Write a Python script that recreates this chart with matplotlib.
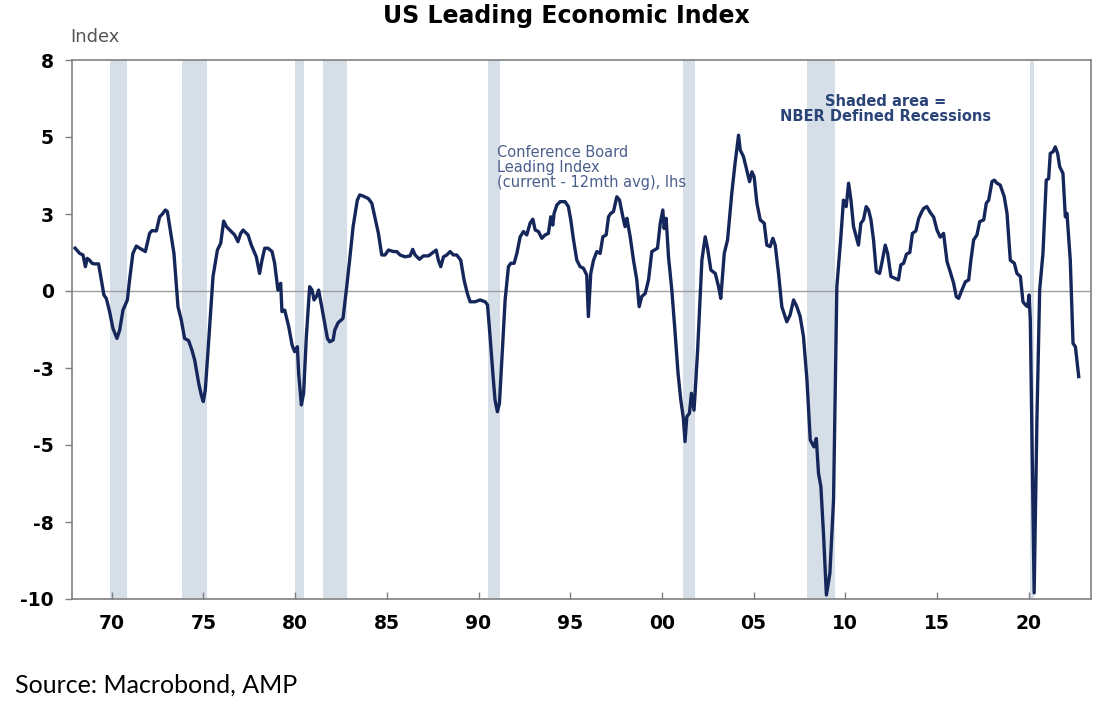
import matplotlib
matplotlib.use('Agg')
import matplotlib.pyplot as plt

# recession bands (NBER), decimal years
rec_start = [1969.92, 1973.83, 1980.0, 1981.5, 1990.5, 2001.17, 2007.92, 2020.1]
rec_end = [1970.83, 1975.17, 1980.5, 1982.83, 1991.17, 2001.83, 2009.42, 2020.3]

# Conference Board leading index, current - 12mth avg
years = [1968.00, 1968.25, 1968.43, 1968.56, 1968.66, 1968.79, 1968.92, 1969.06, 1969.28, 1969.43,
         1969.57, 1969.70, 1969.88, 1970.06, 1970.28, 1970.43, 1970.61, 1970.85, 1970.97, 1971.15,
         1971.34, 1971.52, 1971.83, 1972.06, 1972.19, 1972.43, 1972.61, 1972.76, 1972.92, 1973.03,
         1973.16, 1973.39, 1973.61, 1973.79, 1973.97, 1974.19, 1974.37, 1974.52, 1974.74, 1974.88,
         1974.99, 1975.10, 1975.25, 1975.52, 1975.76, 1975.94, 1976.10, 1976.25, 1976.52, 1976.70,
         1976.88, 1977.03, 1977.16, 1977.43, 1977.61, 1977.88, 1978.06, 1978.19, 1978.34, 1978.52,
         1978.74, 1978.88, 1979.06, 1979.21, 1979.28, 1979.43, 1979.65, 1979.83, 1979.97, 1980.12,
         1980.19, 1980.34, 1980.46, 1980.61, 1980.79, 1980.92, 1981.03, 1981.16, 1981.28, 1981.43,
         1981.61, 1981.76, 1981.88, 1982.07, 1982.16, 1982.34, 1982.61, 1982.79, 1982.97, 1983.16,
         1983.39, 1983.52, 1983.72, 1983.99, 1984.18, 1984.36, 1984.54, 1984.72, 1984.90, 1985.09,
         1985.36, 1985.54, 1985.72, 1985.99, 1986.27, 1986.41, 1986.54, 1986.78, 1986.99, 1987.27,
         1987.45, 1987.69, 1987.81, 1987.94, 1988.09, 1988.27, 1988.45, 1988.63, 1988.81, 1989.03,
         1989.21, 1989.39, 1989.54, 1989.81, 1990.09, 1990.36, 1990.49, 1990.63, 1990.78, 1990.90,
         1991.03, 1991.14, 1991.27, 1991.45, 1991.63, 1991.76, 1991.94, 1992.09, 1992.27, 1992.45,
         1992.63, 1992.81, 1992.96, 1993.09, 1993.27, 1993.45, 1993.63, 1993.81, 1993.94, 1994.05,
         1994.12, 1994.27, 1994.45, 1994.72, 1994.90, 1995.03, 1995.18, 1995.36, 1995.54, 1995.72,
         1995.90, 1995.99, 1996.12, 1996.27, 1996.45, 1996.63, 1996.78, 1996.96, 1997.09, 1997.21,
         1997.36, 1997.54, 1997.69, 1997.87, 1997.99, 1998.09, 1998.27, 1998.45, 1998.63, 1998.76,
         1998.90, 1999.09, 1999.27, 1999.45, 1999.76, 1999.91, 2000.05, 2000.12, 2000.23, 2000.36,
         2000.54, 2000.70, 2000.88, 2001.03, 2001.17, 2001.26, 2001.36, 2001.50, 2001.61, 2001.75,
         2001.81, 2001.95, 2002.18, 2002.36, 2002.49, 2002.67, 2002.91, 2003.09, 2003.21, 2003.40,
         2003.58, 2003.81, 2003.99, 2004.18, 2004.27, 2004.45, 2004.67, 2004.78, 2004.91, 2005.03,
         2005.18, 2005.36, 2005.58, 2005.72, 2005.90, 2006.05, 2006.18, 2006.36, 2006.54, 2006.81,
         2006.99, 2007.18, 2007.36, 2007.54, 2007.72, 2007.91, 2008.09, 2008.29, 2008.42, 2008.54,
         2008.67, 2008.81, 2008.97, 2009.16, 2009.36, 2009.54, 2009.76, 2009.90, 2010.05, 2010.18,
         2010.31, 2010.45, 2010.72, 2010.85, 2010.99, 2011.14, 2011.27, 2011.40, 2011.54, 2011.69,
         2011.87, 2011.99, 2012.18, 2012.31, 2012.49, 2012.72, 2012.90, 2013.03, 2013.18, 2013.34,
         2013.52, 2013.66, 2013.85, 2014.00, 2014.15, 2014.27, 2014.45, 2014.63, 2014.82, 2015.00,
         2015.18, 2015.36, 2015.55, 2015.71, 2015.91, 2016.05, 2016.18, 2016.36, 2016.55, 2016.73,
         2016.85, 2017.00, 2017.18, 2017.33, 2017.55, 2017.69, 2017.82, 2018.00, 2018.13, 2018.27,
         2018.45, 2018.67, 2018.82, 2019.00, 2019.22, 2019.36, 2019.55, 2019.69, 2019.82, 2019.95,
         2020.02, 2020.09, 2020.30, 2020.45, 2020.60, 2020.78, 2020.96, 2021.09, 2021.18, 2021.33,
         2021.45, 2021.58, 2021.69, 2021.87, 2022.00, 2022.09, 2022.27, 2022.42, 2022.55, 2022.73]
lei = [1.39, 1.22, 1.17, 0.79, 1.06, 1.00, 0.90, 0.88, 0.88, 0.36,
       -0.13, -0.24, -0.67, -1.21, -1.54, -1.27, -0.62, -0.29, 0.36, 1.22,
       1.46, 1.39, 1.28, 1.87, 1.96, 1.95, 2.41, 2.50, 2.63, 2.58,
       2.09, 1.22, -0.51, -0.94, -1.54, -1.61, -1.92, -2.24, -3.00, -3.38,
       -3.59, -3.21, -1.92, 0.47, 1.33, 1.55, 2.27, 2.09, 1.93, 1.82,
       1.60, 1.87, 1.98, 1.82, 1.49, 1.11, 0.57, 1.00, 1.39, 1.39,
       1.28, 0.90, 0.03, 0.25, -0.67, -0.62, -1.16, -1.75, -1.97, -1.81,
       -2.67, -3.70, -3.32, -1.48, 0.14, 0.03, -0.29, -0.18, 0.03, -0.45,
       -1.05, -1.54, -1.65, -1.59, -1.27, -1.03, -0.89, 0.03, 1.00, 2.09,
       2.95, 3.12, 3.08, 3.00, 2.85, 2.36, 1.87, 1.17, 1.17, 1.33,
       1.28, 1.28, 1.17, 1.11, 1.14, 1.35, 1.17, 1.03, 1.14, 1.14,
       1.22, 1.33, 1.00, 0.79, 1.11, 1.17, 1.28, 1.17, 1.17, 1.00,
       0.36, -0.08, -0.35, -0.35, -0.29, -0.35, -0.45, -1.48, -2.67, -3.54,
       -3.92, -3.65, -2.24, -0.29, 0.79, 0.90, 0.90, 1.22, 1.76, 1.93,
       1.82, 2.20, 2.33, 1.98, 1.93, 1.71, 1.82, 1.87, 2.41, 2.14,
       2.52, 2.79, 2.90, 2.90, 2.74, 2.31, 1.66, 1.00, 0.79, 0.74,
       0.52, -0.83, 0.57, 1.00, 1.28, 1.22, 1.76, 1.82, 2.41, 2.52,
       2.58, 3.06, 2.95, 2.41, 2.09, 2.36, 1.76, 1.00, 0.36, -0.51,
       -0.18, -0.08, 0.36, 1.28, 1.39, 2.20, 2.63, 2.03, 2.36, 1.11,
       0.03, -1.20, -2.67, -3.54, -4.13, -4.89, -4.08, -3.97, -3.32, -3.87,
       -3.32, -1.90, 1.00, 1.76, 1.39, 0.68, 0.57, 0.14, -0.24, 1.22,
       1.66, 3.17, 4.15, 5.06, 4.58, 4.36, 3.82, 3.55, 3.87, 3.71,
       2.85, 2.31, 2.20, 1.49, 1.44, 1.71, 1.49, 0.57, -0.51, -1.00,
       -0.78, -0.29, -0.51, -0.83, -1.48, -2.89, -4.84, -5.06, -4.79, -5.92,
       -6.35, -7.87, -9.87, -9.17, -6.78, 0.14, 1.76, 2.95, 2.74, 3.50,
       2.95, 2.09, 1.49, 2.20, 2.31, 2.74, 2.63, 2.31, 1.66, 0.63,
       0.57, 0.90, 1.49, 1.22, 0.47, 0.41, 0.36, 0.85, 0.90, 1.20,
       1.25, 1.87, 1.95, 2.35, 2.55, 2.68, 2.74, 2.55, 2.40, 1.98,
       1.75, 1.87, 0.95, 0.65, 0.25, -0.18, -0.24, 0.03, 0.30, 0.36,
       1.00, 1.66, 1.82, 2.25, 2.31, 2.85, 2.95, 3.55, 3.60, 3.50,
       3.44, 3.06, 2.52, 1.00, 0.90, 0.57, 0.47, -0.35, -0.45, -0.51,
       -0.13, -0.94, -9.80, -4.20, 0.03, 1.22, 3.60, 3.65, 4.47, 4.52,
       4.68, 4.47, 4.04, 3.82, 2.41, 2.52, 1.00, -1.70, -1.81, -2.78]

ytick_pos = [7.5, 5, 2.5, 0, -2.5, -5, -7.5, -10]
ytick_lab = ['8', '5', '3', '0', '-3', '-5', '-8', '-10']
xtick_pos = list(range(1970, 2021, 5))
xtick_lab = ['70', '75', '80', '85', '90', '95', '00', '05', '10', '15', '20']

navy = '#15275a'
shade = '#d6dee8'
grey = '#808080'

plt.rcParams['font.family'] = ['DejaVu Sans']

fig = plt.figure(figsize=(11.16, 7.09), dpi=100)
ax = fig.add_axes([72/1116, 110/709, 1019/1116, 539/709])

for s, e in zip(rec_start, rec_end):
    ax.axvspan(s, e, color=shade, lw=0, zorder=0)
ax.axhline(0, color='#a0a0a0', lw=1.0, zorder=1)
ax.plot(years, lei, color=navy, lw=2.4, zorder=3)

ax.set_xlim(1967.83, 2023.4)
ax.set_ylim(-10, 7.5)
ax.set_yticks(ytick_pos)
ax.set_yticklabels(ytick_lab, fontsize=13.5, fontweight='bold')
ax.set_xticks(xtick_pos)
ax.set_xticklabels(xtick_lab, fontsize=13.5, fontweight='bold')
ax.tick_params(axis='y', direction='out', length=5, width=1, color=grey, pad=8)
ax.tick_params(axis='x', direction='in', length=5, width=1, color=grey, pad=11)
for sp in ax.spines.values():
    sp.set_color(grey)
    sp.set_linewidth(1.2)

ax.text(1991.0, 4.75, 'Conference Board\nLeading Index\n(current - 12mth avg), lhs',
        fontsize=10.5, color='#4a5f8c', va='top', ha='left', linespacing=1.0)
ax.text(2012.2, 6.4, 'Shaded area =\nNBER Defined Recessions', fontsize=10.5,
        fontweight='bold', color='#2b4478', va='top', ha='center',
        multialignment='center', linespacing=1.0)

fig.text(566/1116, 1 - 16/709, 'US Leading Economic Index', fontsize=17,
         fontweight='bold', ha='center', va='center')
fig.text(70/1116, 1 - 37/709, 'Index', fontsize=13, color='#555555',
         ha='left', va='center')
fig.text(15/1116, 1 - 685/709, 'Source: Macrobond, AMP', fontsize=18,
         family=['Lato', 'DejaVu Sans'], ha='left', va='center')

fig.savefig('out.png', dpi=100)
